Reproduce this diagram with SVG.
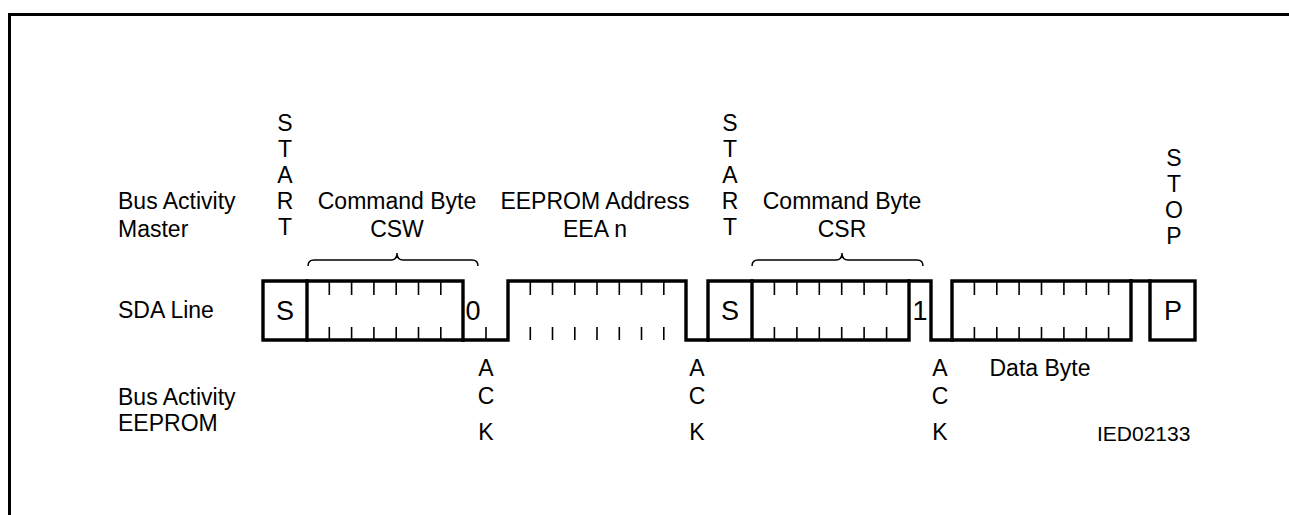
<svg xmlns="http://www.w3.org/2000/svg" width="1289" height="515" viewBox="0 0 1289 515">
<style>
text{font-family:"Liberation Sans",Arial,sans-serif;fill:#000}
.lbl{font-size:23px}
.mid{text-anchor:middle}
.box{font-size:27px;text-anchor:middle}
.wave{fill:none;stroke:#000;stroke-width:3.4;stroke-linejoin:miter;stroke-linecap:square}
.tick{stroke:#000;stroke-width:1.6}
.brace{fill:none;stroke:#000;stroke-width:1.5}
.frame{fill:none;stroke:#000;stroke-width:3}
.small{font-size:21px}
</style>
<path class="frame" d="M9.5 515 V14.5 H1289"/>
<g id="row-labels">
<text class="lbl" x="118" y="209">Bus Activity</text>
<text class="lbl" x="118" y="237">Master</text>
<text class="lbl" x="118" y="318">SDA Line</text>
<text class="lbl" x="118" y="405">Bus Activity</text>
<text class="lbl" x="118" y="431">EEPROM</text>
</g>
<g id="start1">
<text class="lbl mid" x="285" y="131">S</text>
<text class="lbl mid" x="285" y="157">T</text>
<text class="lbl mid" x="285" y="183">A</text>
<text class="lbl mid" x="285" y="209">R</text>
<text class="lbl mid" x="285" y="235">T</text>
</g>
<g id="start2">
<text class="lbl mid" x="730" y="131">S</text>
<text class="lbl mid" x="730" y="157">T</text>
<text class="lbl mid" x="730" y="183">A</text>
<text class="lbl mid" x="730" y="209">R</text>
<text class="lbl mid" x="730" y="235">T</text>
</g>
<g id="stop">
<text class="lbl mid" x="1174" y="166">S</text>
<text class="lbl mid" x="1174" y="192">T</text>
<text class="lbl mid" x="1174" y="218">O</text>
<text class="lbl mid" x="1174" y="244">P</text>
</g>
<g id="csw-label">
<text class="lbl mid" x="397" y="209">Command Byte</text>
<text class="lbl mid" x="397" y="237">CSW</text>
<path class="brace" d="M308 266 Q308 260 314 260 L391 260 Q397 260 397 253 Q397 260 403 260 L472 260 Q478 260 478 266"/>
</g>
<g id="eea-label">
<text class="lbl mid" x="595" y="209">EEPROM Address</text>
<text class="lbl mid" x="595" y="237">EEA n</text>
</g>
<g id="csr-label">
<text class="lbl mid" x="842" y="209">Command Byte</text>
<text class="lbl mid" x="842" y="237">CSR</text>
<path class="brace" d="M752 266 Q752 260 758 260 L836 260 Q842 260 842 253 Q842 260 848 260 L917 260 Q923 260 923 266"/>
</g>
<g id="sda-waveform">
<path class="wave" d="M263 281 H307 M263 281 V340 H508 V281 H686 V340 H708 V281 H931 V340 H952 V281 H1131"/>
<path class="wave" d="M307 281 H463 V340 M307 281 V340"/>
<path class="wave" d="M752 281 V340 M909 281 V340 M708 340 H909 M952 340 H1131 V281"/>
<path class="wave" d="M1131 281 H1150"/>
<rect class="wave" x="1150" y="281" width="45" height="59"/>
<path class="tick" d="M329.3 281V295M351.6 281V295M373.9 281V295M396.2 281V295M418.5 281V295M440.8 281V295M329.3 340V327M351.6 340V327M373.9 340V327M396.2 340V327M418.5 340V327M440.8 340V327M486 340V327"/>
<path class="tick" d="M530.3 281V295M552.5 281V295M574.8 281V295M597 281V295M619.3 281V295M641.5 281V295M663.8 281V295M530.3 340V327M552.5 340V327M574.8 340V327M597 340V327M619.3 340V327M641.5 340V327M663.8 340V327"/>
<path class="tick" d="M774.4 281V295M796.9 281V295M819.3 281V295M841.7 281V295M864.1 281V295M886.6 281V295M774.4 340V327M796.9 340V327M819.3 340V327M841.7 340V327M864.1 340V327M886.6 340V327"/>
<path class="tick" d="M974.4 281V295M996.8 281V295M1019.1 281V295M1041.5 281V295M1063.9 281V295M1086.3 281V295M1108.6 281V295M974.4 340V327M996.8 340V327M1019.1 340V327M1041.5 340V327M1063.9 340V327M1086.3 340V327M1108.6 340V327"/>
<text class="box" x="285" y="320">S</text>
<text class="box" x="473" y="320">0</text>
<text class="box" x="730" y="320">S</text>
<text class="box" x="920" y="320">1</text>
<text class="box" x="1173" y="320">P</text>
</g>
<g id="ack1">
<text class="lbl mid" x="486" y="376">A</text>
<text class="lbl mid" x="486" y="404">C</text>
<text class="lbl mid" x="486" y="440">K</text>
</g>
<g id="ack2">
<text class="lbl mid" x="697" y="376">A</text>
<text class="lbl mid" x="697" y="404">C</text>
<text class="lbl mid" x="697" y="440">K</text>
</g>
<g id="ack3">
<text class="lbl mid" x="940" y="376">A</text>
<text class="lbl mid" x="940" y="404">C</text>
<text class="lbl mid" x="940" y="440">K</text>
</g>
<g id="data-byte">
<text class="lbl mid" x="1040" y="376">Data Byte</text>
</g>
<g id="figure-id">
<text class="small" x="1097" y="441">IED02133</text>
</g>
</svg>
